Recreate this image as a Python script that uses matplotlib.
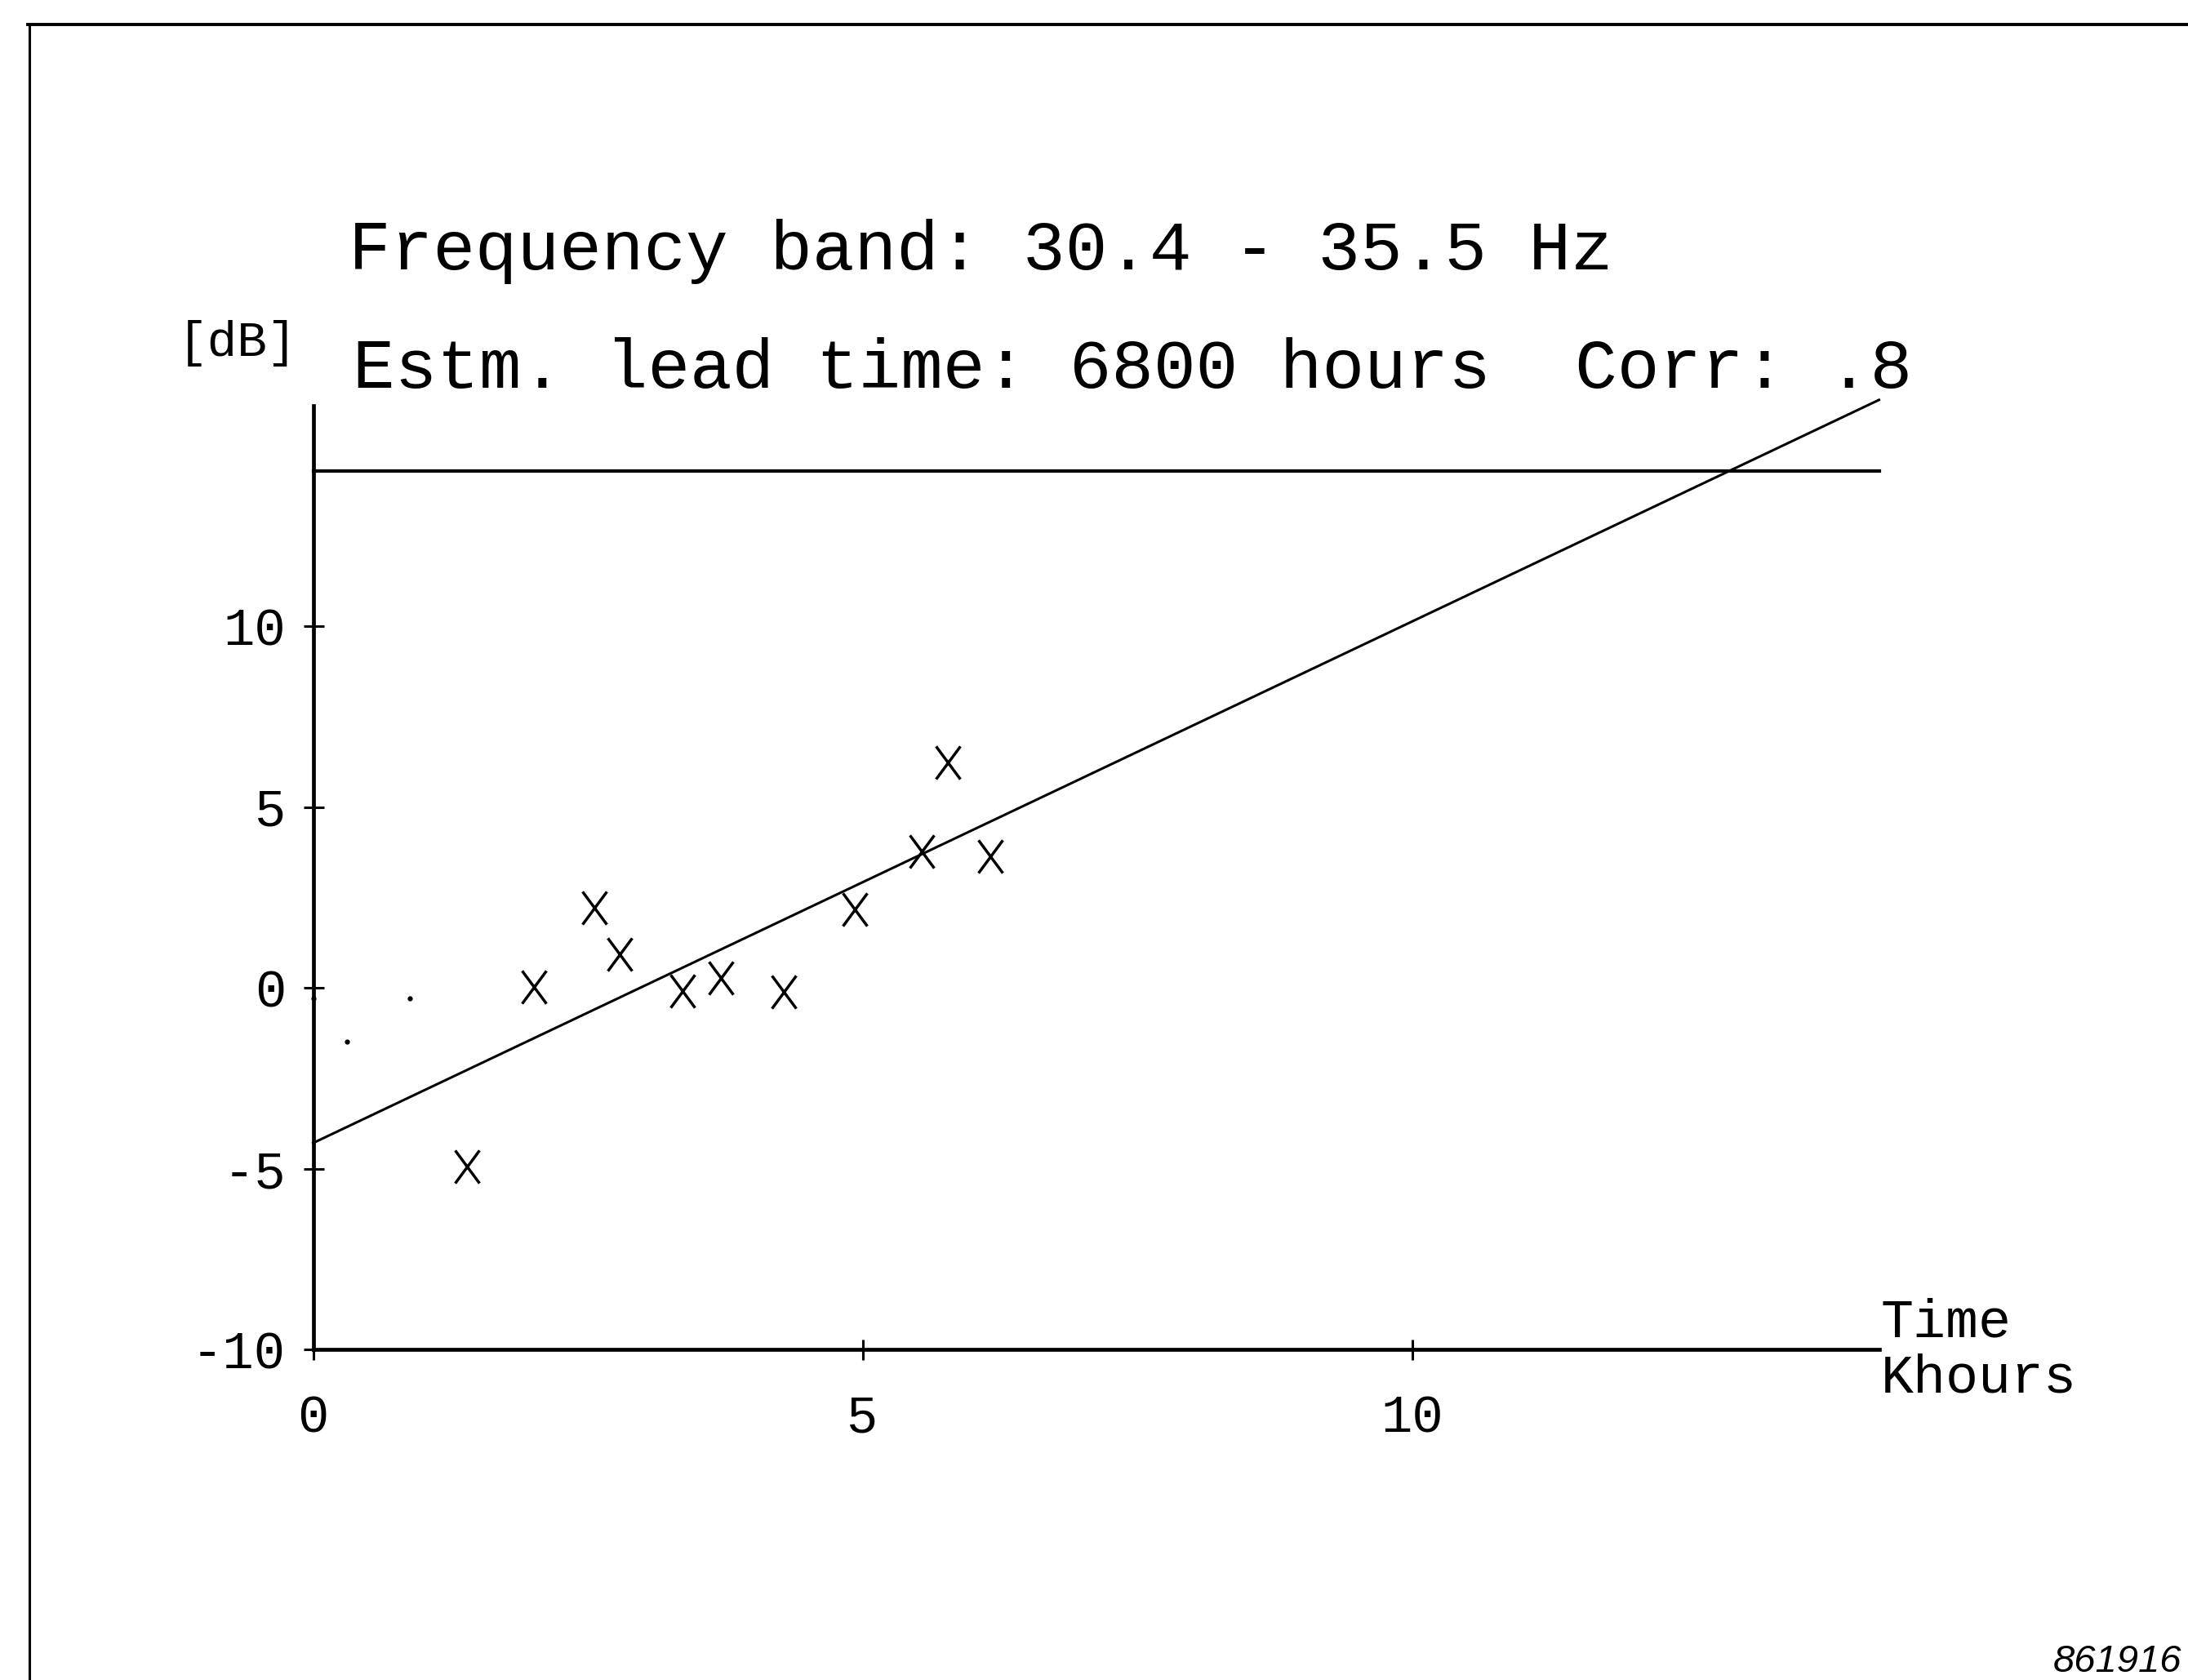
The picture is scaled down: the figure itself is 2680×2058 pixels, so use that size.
import numpy as np
import matplotlib
matplotlib.use("Agg")
import matplotlib.pyplot as plt
from matplotlib.path import Path
from matplotlib.lines import Line2D

# ---- data ----
time_khours = [1.40, 2.01, 2.56, 2.79, 3.36, 3.71, 4.28, 4.93, 5.54, 5.78, 6.16]
level_db = [-4.95, 0.03, 2.22, 0.93, -0.08, 0.27, -0.12, 2.17, 3.76, 6.23, 3.63]
faint_x = [0.0, 0.31, 0.88]
faint_y = [-0.3, -1.5, -0.3]
threshold_db = 14.3
x_ticks = [0, 5, 10]
y_ticks = [-10, -5, 0, 5, 10]
x_max = 14.25
y_min, y_max = -10, 16.1

title1 = "Frequency band: 30.4 - 35.5 Hz"
title2 = "Estm. lead time: 6800 hours  Corr: .8"
y_unit = "[dB]"
x_label1 = "Time"
x_label2 = "Khours"
figure_id = "861916"

W, H = 2680, 2058
DPI = 100
fig = plt.figure(figsize=(W / DPI, H / DPI), dpi=DPI)
fig.patch.set_facecolor("white")

MONO = ["Liberation Mono", "DejaVu Sans Mono"]


def fx(px):
    return px / W


def fy(py):
    return 1 - py / H


# axes placement (pixel geometry of reference)
x0_px, x10_px = 383.5, 1729.5
ym10_px, y10_px = 1653, 767
px_per_x = (x10_px - x0_px) / 10
px_per_y = (ym10_px - y10_px) / 20
left = x0_px
right = x0_px + x_max * px_per_x
bottom = ym10_px
top = ym10_px - (y_max - y_min) * px_per_y
ax = fig.add_axes([fx(left), fy(bottom), (right - left) / W, (bottom - top) / H])
ax.set_xlim(0, x_max)
ax.set_ylim(y_min, y_max)
ax.patch.set_alpha(0)

for s in ["top", "right"]:
    ax.spines[s].set_visible(False)
for s in ["left", "bottom"]:
    ax.spines[s].set_linewidth(3.4)
    ax.spines[s].set_color("black")

ax.set_xticks(x_ticks)
ax.set_yticks(y_ticks)
ax.set_xticklabels([str(t) for t in x_ticks])
ax.set_yticklabels([str(t) for t in y_ticks])
ax.tick_params(axis="both", direction="inout", length=18, width=2.2, colors="black")
ax.tick_params(axis="y", pad=15)
ax.tick_params(axis="x", pad=30)
for lab in ax.get_xticklabels() + ax.get_yticklabels():
    lab.set_family(MONO)
    lab.set_fontsize(46)

# threshold line
ax.plot([0, x_max], [threshold_db, threshold_db], color="black", lw=3.0, clip_on=False)

# regression line computed from data
slope, intercept = np.polyfit(time_khours, level_db, 1)
xl = np.array([0, x_max])
ax.plot(xl, intercept + slope * xl, color="black", lw=2.2, clip_on=False)

# X markers (taller than wide, like the plotter glyph)
xpath = Path([(-0.37, -0.5), (0.37, 0.5), (-0.37, 0.5), (0.37, -0.5)],
             [Path.MOVETO, Path.LINETO, Path.MOVETO, Path.LINETO])
ax.plot(time_khours, level_db, linestyle="none", marker=xpath, markersize=29,
        markeredgewidth=2.5, color="black", clip_on=False)

# faint specks near origin
ax.plot(faint_x, faint_y, linestyle="none", marker=".", markersize=7, color="black",
        clip_on=False)

# texts
fig.text(fx(427), fy(330), title1, family=MONO, fontsize=62, va="baseline", ha="left")
fig.text(fx(432), fy(475), title2, family=MONO, fontsize=62, va="baseline", ha="left")
fig.text(fx(218), fy(436), y_unit, family=MONO, fontsize=44, va="baseline", ha="left")
fig.text(fx(2304), fy(1637), x_label1, family=MONO, fontsize=48, va="baseline", ha="left")
fig.text(fx(2304), fy(1705), x_label2, family=MONO, fontsize=48, va="baseline", ha="left")
fig.text(fx(2515), fy(2048), figure_id, family=["Liberation Sans", "DejaVu Sans"],
         style="italic", fontsize=34, va="baseline", ha="left")

# page frame lines (top and left edge of the scanned page)
fig.add_artist(Line2D([fx(34), 1.0], [fy(30), fy(30)], transform=fig.transFigure,
                      color="black", lw=2.8))
fig.add_artist(Line2D([fx(36), fx(36)], [fy(30), 0.0], transform=fig.transFigure,
                      color="black", lw=2.2))

fig.savefig("out.png", dpi=DPI, facecolor="white")
